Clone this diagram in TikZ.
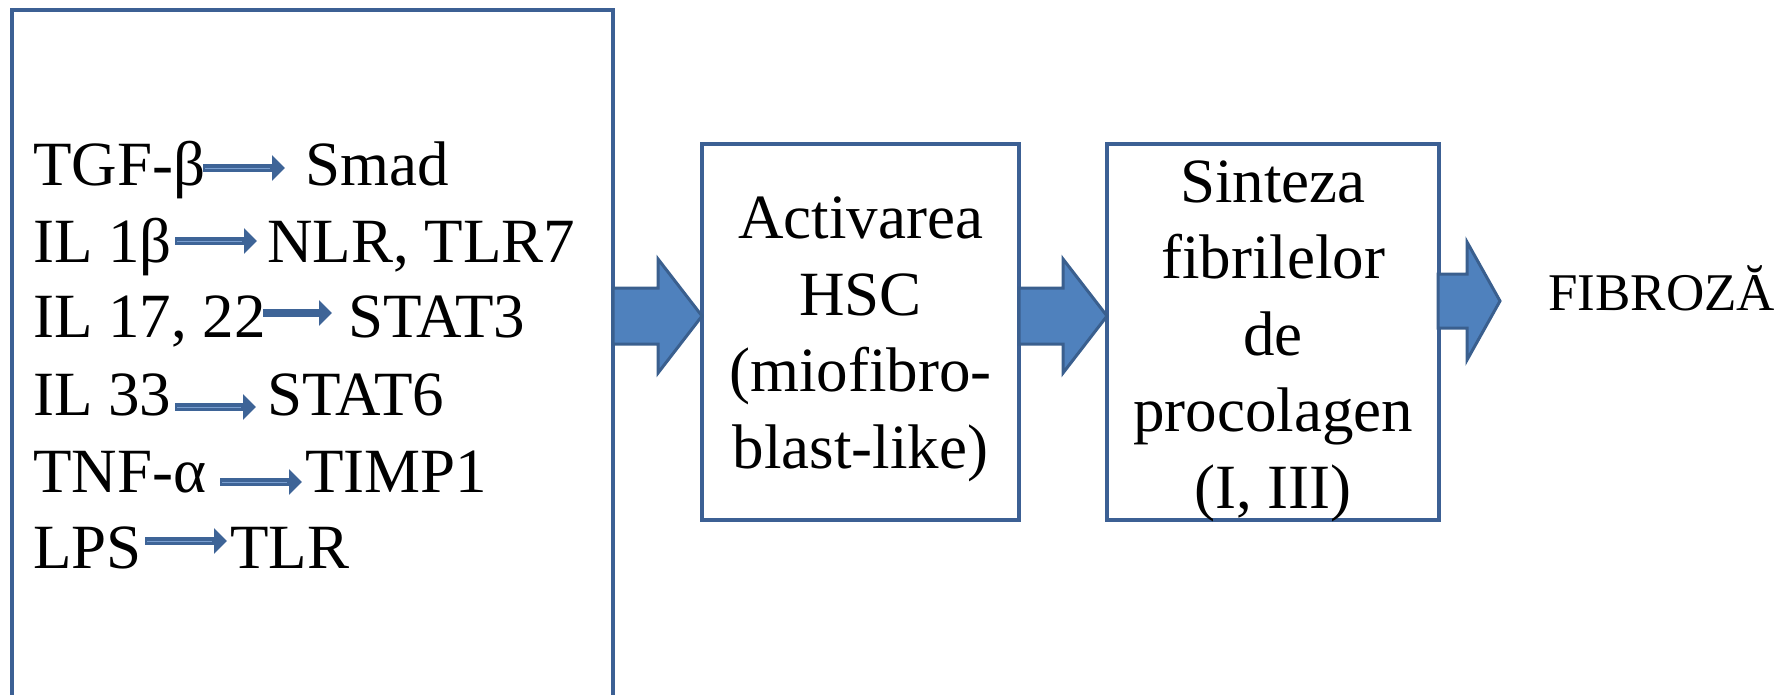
\documentclass[tikz,border=0pt]{standalone}
\usepackage{fontspec}
\setmainfont{Liberation Serif}
\usetikzlibrary{arrows.meta}
\definecolor{boxline}{HTML}{3C6094}
\definecolor{bigfill}{HTML}{4F81BD}
\definecolor{bigline}{HTML}{3A5F8E}
\definecolor{arrdark}{HTML}{3E6497}
\definecolor{arrlight}{HTML}{7A9FD0}
\tikzset{
  bigbox/.style={draw=boxline, line width=4pt, fill=white, inner sep=0pt},
  bigarrow/.style={fill=bigfill, draw=bigline, line width=3pt, line join=miter},
  inarr/.style={draw=arrdark, line width=8pt, -{Triangle[width=25pt,length=13pt]}},
  inlight/.style={draw=arrlight, line width=1pt},
  lbl/.style={anchor=base west, inner sep=0pt, font=\fontsize{63}{76}\selectfont},
  boxtxt/.style={anchor=base, inner sep=0pt, align=center, font=\fontsize{63}{76.5}\selectfont},
}
\newcommand{\inarrow}[4]{%
  \coordinate (#1s) at (#2,#4);
  \coordinate (#1e) at (#3,#4);
  \draw[inarr] (#1s) -- (#1e);
  \draw[inlight] ([xshift=2pt]#1s) -- ([xshift=-15pt]#1e);
}
\begin{document}
\begin{tikzpicture}[x=1pt,y=-1pt]
\useasboundingbox (0,0) rectangle (1787,694);
\clip (0,0) rectangle (1787,694);
% left box (runs past the bottom edge)
\draw[draw=boxline, line width=4pt] (12,720) -- (12,10) -- (613,10) -- (613,720);
% left box contents
\node[lbl] (tgf) at (33,185) {TGF-β};
\node[lbl] (smad) at (305,185) {Smad};
\node[lbl] (il1) at (33,262) {IL 1β};
\node[lbl] (nlr) at (267,262) {NLR, TLR7};
\node[lbl] (il17) at (33,337) {IL 17, 22};
\node[lbl] (stat3) at (348,337) {STAT3};
\node[lbl] (il33) at (33,415) {IL 33};
\node[lbl] (stat6) at (267,415) {STAT6};
\node[lbl] (tnf) at (33,492) {TNF-α};
\node[lbl] (timp) at (305,492) {TIMP1};
\node[lbl] (lps) at (33,568) {LPS};
\node[lbl] (tlr) at (230,568) {TLR};
\inarrow{a1}{203}{285}{168}
\inarrow{a2}{175}{257}{241}
\coordinate (a3s) at (263,313);
\coordinate (a3e) at (332,313);
\draw[inarr] (a3s) -- (a3e);
\inarrow{a4}{175}{256}{407}
\inarrow{a5}{220}{302}{482}
\inarrow{a6}{145}{227}{541}
% middle boxes
\node[bigbox, minimum width=317pt, minimum height=376pt] (act) at (860.5,332) {};
\node[boxtxt] (acttxt) at (860.5,468) {Activarea\\HSC\\(miofibro-\\blast-like)};
\node[bigbox, minimum width=332pt, minimum height=376pt] (sin) at (1273,332) {};
\node[boxtxt] (sintxt) at (1273,508) {Sinteza\\fibrilelor\\de\\procolagen\\(I, III)};
\node[anchor=base west, inner sep=0pt, font=\fontsize{53}{64}\selectfont] (fib) at (1548,310) {FIBROZĂ};
% block arrows
\draw[bigarrow] (613,288) -- (658,288) -- (658,259) -- (702,316) -- (658,373) -- (658,344) -- (613,344) -- cycle;
\draw[bigarrow] (1019,288) -- (1063,288) -- (1063,259) -- (1107,316) -- (1063,373) -- (1063,344) -- (1019,344) -- cycle;
\draw[bigarrow] (1438,274) -- (1467,274) -- (1467,242) -- (1500,301) -- (1467,360) -- (1467,328) -- (1438,328) -- cycle;
\end{tikzpicture}
\end{document}
